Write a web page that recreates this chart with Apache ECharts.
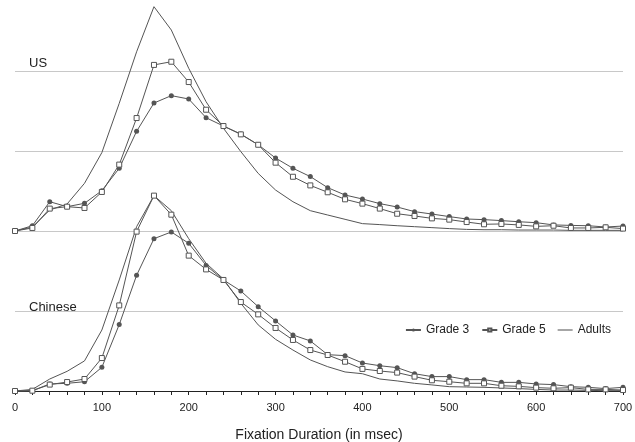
<!DOCTYPE html>
<html>
<head>
<meta charset="utf-8">
<script src="https://cdn.jsdelivr.net/npm/echarts@6/dist/echarts.min.js"></script>
<style>
  html, body { margin: 0; padding: 0; background: #fff; }
  #chart { width: 635px; height: 442px; }
</style>
</head>
<body>
<div id="chart"></div>
<script>
// fixation duration bins (msec)
var durations = [0, 20, 40, 60, 80, 100, 120, 140, 160, 180, 200, 220, 240, 260, 280, 300, 320, 340,
  360, 380, 400, 420, 440, 460, 480, 500, 520, 540, 560, 580, 600, 620, 640, 660, 680, 700];

// US panel
var usGrade3 = [0, 0.33, 1.83, 1.52, 1.73, 2.52, 3.92, 6.23, 8.0, 8.46, 8.25, 7.08, 6.56, 6.06, 5.39, 4.56, 3.92, 3.4,
  2.71, 2.25, 2.0, 1.71, 1.5, 1.21, 1.06, 0.9, 0.75, 0.71, 0.65, 0.58, 0.52, 0.38, 0.35, 0.33, 0.25, 0.31];
var usGrade5 = [0, 0.19, 1.4, 1.52, 1.44, 2.44, 4.15, 7.06, 10.38, 10.58, 9.31, 7.58, 6.56, 6.04, 5.39, 4.27, 3.39, 2.85,
  2.42, 1.98, 1.71, 1.4, 1.08, 0.94, 0.79, 0.71, 0.56, 0.42, 0.44, 0.38, 0.29, 0.33, 0.19, 0.19, 0.23, 0.15];
var usAdults = [0, 0.25, 1.31, 1.69, 2.98, 4.9, 7.98, 11.2, 14.02, 12.56, 10.17, 8.08, 6.42, 4.96, 3.6, 2.56, 1.83, 1.27,
  1.0, 0.73, 0.46, 0.4, 0.33, 0.27, 0.21, 0.15, 0.1, 0.08, 0.08, 0.06, 0.06, 0.06, 0.04, 0.04, 0.04, 0.04];

// Chinese panel
var cnGrade3 = [0, 0.02, 0.44, 0.48, 0.58, 1.48, 4.15, 7.23, 9.52, 9.94, 9.23, 7.85, 6.94, 6.25, 5.27, 4.38, 3.5, 3.13,
  2.27, 2.21, 1.75, 1.58, 1.46, 1.08, 0.9, 0.9, 0.71, 0.71, 0.54, 0.54, 0.44, 0.4, 0.27, 0.23, 0.15, 0.23];
var cnGrade5 = [0, 0.02, 0.4, 0.56, 0.75, 2.06, 5.35, 9.96, 12.21, 11.02, 8.46, 7.6, 6.94, 5.56, 4.79, 3.94, 3.19, 2.56,
  2.25, 1.83, 1.38, 1.25, 1.15, 0.9, 0.67, 0.58, 0.48, 0.48, 0.33, 0.29, 0.21, 0.17, 0.21, 0.1, 0.1, 0.06];
var cnAdults = [0, 0.1, 0.75, 1.23, 1.88, 3.81, 6.94, 10.27, 12.21, 11.27, 9.52, 7.98, 7.0, 5.48, 4.13, 3.23, 2.56, 1.94,
  1.52, 1.19, 1.08, 0.75, 0.63, 0.48, 0.38, 0.27, 0.25, 0.23, 0.19, 0.15, 0.1, 0.06, 0.06, 0.04, 0.02, 0.02];

var xLabels = ['0', '100', '200', '300', '400', '500', '600', '700'];

function pairs(vals) {
  return vals.map(function (v, i) { return [durations[i], v]; });
}

var lineColor = '#555';

function mkSeries(name, vals, gi, kind) {
  var s = {
    name: name,
    type: 'line',
    xAxisIndex: gi,
    yAxisIndex: gi,
    data: pairs(vals),
    lineStyle: { color: lineColor, width: 1 },
    itemStyle: { color: lineColor },
    symbolSize: 5,
    showSymbol: true,
    silent: true,
    animation: false,
    clip: false
  };
  if (kind === 'g3') {
    s.symbol = 'circle';
    s.itemStyle = { color: lineColor, borderColor: lineColor, borderWidth: 0 };
  } else if (kind === 'g5') {
    s.symbol = 'rect';
    s.symbolSize = 5;
    s.itemStyle = { color: '#fff', borderColor: lineColor, borderWidth: 1 };
  } else {
    s.symbol = 'none';
    s.showSymbol = false;
  }
  return s;
}

var myChart = echarts.init(document.getElementById('chart'));
var option = {
  backgroundColor: '#fff',
  animation: false,
  textStyle: { fontFamily: 'Liberation Sans, Arial, sans-serif' },
  title: [
    { text: 'US', left: 24, top: 52, textStyle: { fontSize: 13, fontWeight: 'normal', color: '#222' } },
    { text: 'Chinese', left: 24, top: 296, textStyle: { fontSize: 13, fontWeight: 'normal', color: '#222' } }
  ],
  legend: {
    right: 19,
    top: 319,
    itemWidth: 15,
    itemHeight: 4,
    itemGap: 12,
    textStyle: { fontSize: 12, color: '#222' },
    data: [
      { name: 'Grade 3' },
      { name: 'Grade 5' },
      { name: 'Adults', icon: 'path://M0,0 L20,0 L20,1.4 L0,1.4 Z', itemStyle: { color: lineColor } }
    ]
  },
  grid: [
    { left: 15, right: 12, top: -9, bottom: 211, outerBoundsMode: 'none' },
    { left: 15, right: 12, top: -9, bottom: 51, outerBoundsMode: 'none' }
  ],
  xAxis: [
    { type: 'value', gridIndex: 0, min: 0, max: 700, interval: 20, show: false },
    {
      type: 'value', gridIndex: 1, min: 0, max: 700, interval: 20,
      name: 'Fixation Duration (in msec)', nameLocation: 'middle', nameGap: 37,
      nameTextStyle: { fontSize: 14, color: '#222' },
      axisLine: { lineStyle: { color: '#222', width: 1 } },
      axisTick: { show: true, inside: false, lineStyle: { color: '#222' }, length: 4 },
      splitLine: { show: false },
      axisLabel: {
        fontSize: 11, color: '#222', margin: 11,
        formatter: function (v) { return xLabels.indexOf(String(v)) >= 0 ? String(v) : ''; }
      }
    }
  ],
  yAxis: [
    { type: 'value', gridIndex: 0, min: 0, max: 15, interval: 5, show: false, splitLine: { show: false } },
    {
      type: 'value', gridIndex: 1, min: 0, max: 25, interval: 5,
      axisLine: { show: false }, axisTick: { show: false }, axisLabel: { show: false },
      splitLine: { lineStyle: { color: '#c8c8c8', width: 1 } }
    }
  ],
  series: [
    mkSeries('Grade 3', usGrade3, 0, 'g3'),
    mkSeries('Grade 5', usGrade5, 0, 'g5'),
    mkSeries('Adults', usAdults, 0, 'ad'),
    mkSeries('Grade 3', cnGrade3, 1, 'g3'),
    mkSeries('Grade 5', cnGrade5, 1, 'g5'),
    mkSeries('Adults', cnAdults, 1, 'ad')
  ]
};
window.onresize = myChart.resize;
myChart.setOption(option);
</script>
</body>
</html>
